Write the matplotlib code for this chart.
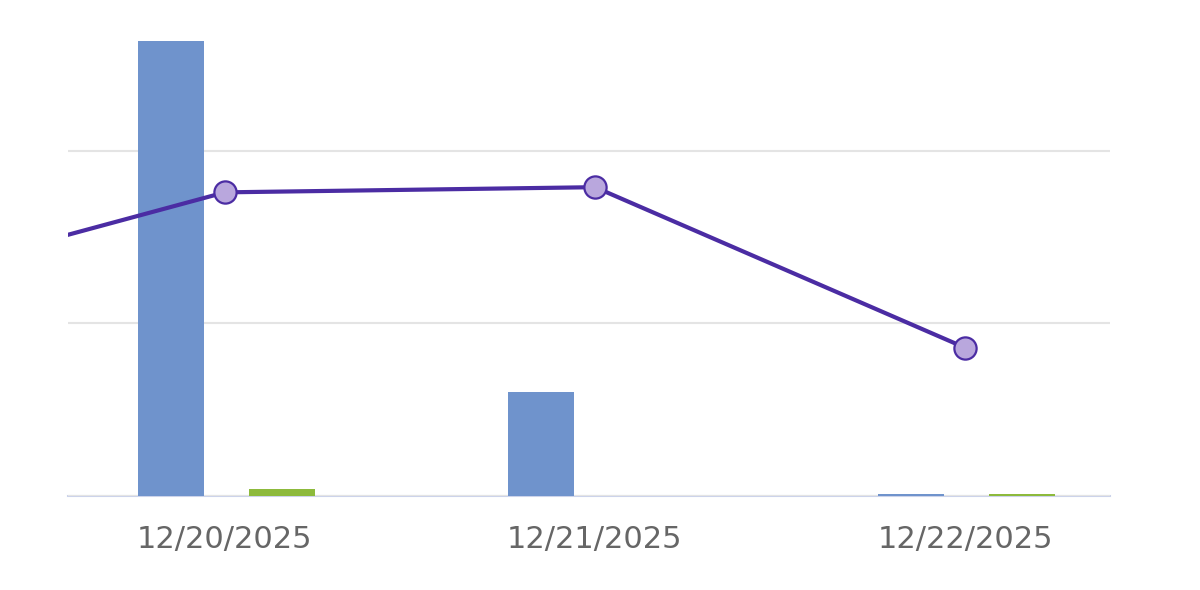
import matplotlib
matplotlib.use("Agg")
import matplotlib.pyplot as plt
import numpy as np

dates = ["12/20/2025", "12/21/2025", "12/22/2025"]
blue_vals = [2.64, 0.60, 0.012]
green_vals = [0.04, 0.0, 0.012]
# line includes the previous day (off the left edge)
line_x = [-1, 0, 1, 2]
line_vals = [1.18, 1.76, 1.79, 0.86]

BLUE = "#6f93cc"
GREEN = "#8dba3c"
PURPLE = "#4b2ca3"
PURPLE_FILL = "#b9a7dd"

fig = plt.figure(figsize=(12, 5.9), dpi=100)
ax = fig.add_axes([68 / 1200, 94 / 590, 1042 / 1200, 496 / 590])

x = np.arange(len(dates))
w = 0.178
ax.bar(x - 0.145, blue_vals, width=w, color=BLUE, zorder=2)
ax.bar(x + 0.154, green_vals, width=w, color=GREEN, zorder=2)
ax.plot(line_x, line_vals, color=PURPLE, lw=3, zorder=3,
        marker="o", markersize=16, markerfacecolor=PURPLE_FILL,
        markeredgecolor=PURPLE, markeredgewidth=1.6)

ax.set_xlim(-0.424, 2.392)
ax.set_ylim(0, 2.875)
ax.set_yticks([0, 1, 2])
ax.yaxis.grid(True, color="#e4e4e4", lw=1.5, zorder=0)
ax.set_yticklabels([])
ax.tick_params(axis="y", length=0)
ax.set_xticks(x)
ax.set_xticklabels(dates, fontsize=22, color="#666666")
ax.tick_params(axis="x", length=0, pad=21)
for s in ["top", "right", "left"]:
    ax.spines[s].set_visible(False)
ax.spines["bottom"].set_color("#ccd3ea")
ax.spines["bottom"].set_linewidth(1.5)
ax.spines["bottom"].set_zorder(1)

fig.savefig("out.png", dpi=100)
